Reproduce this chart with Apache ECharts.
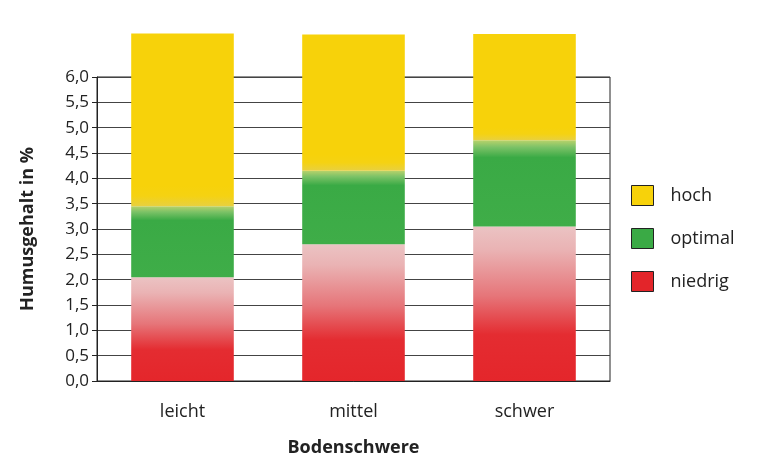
<!DOCTYPE html>
<html><head><meta charset="utf-8">
<script src="https://cdn.jsdelivr.net/npm/echarts@6/dist/echarts.min.js"></script>
<style>html,body{margin:0;background:#fff}#main{width:770px;height:473px}</style>
</head><body><div id="main"></div>
<script>
const categories = ['leicht', 'mittel', 'schwer'];
const niedrig = [2.05, 2.7, 3.05];
const optimal = [1.4, 1.45, 1.7];
const hoch = [3.41, 2.69, 2.1];
const yTicks = [0, 6, 0.5]; // min, max, step of the framed axis
const barTop = 6.9;

const font = 'Open Sans, DejaVu Sans, sans-serif';
const grad = (stops) => ({ type: 'linear', x: 0, y: 1, x2: 0, y2: 0,
  colorStops: stops.map(s => ({ offset: s[0], color: s[1] })) });

const myChart = echarts.init(document.getElementById('main'));
const plotBottom = 92, plotTop = 77;
const plotH = 473 - plotBottom - plotTop;
const barGridTop = 473 - plotBottom - plotH * barTop / yTicks[1];

myChart.setOption({
  animation: false,
  textStyle: { fontFamily: font },
  grid: [
    { left: 97, right: 160, top: plotTop, bottom: plotBottom, show: true, borderColor: '#222', borderWidth: 1, z: 0 },
    { left: 97, right: 160, top: barGridTop, bottom: plotBottom }
  ],
  legend: {
    orient: 'vertical', left: 626, top: 180, itemGap: 22,
    itemWidth: 22, itemHeight: 20, icon: 'rect',
    textStyle: { fontSize: 18, color: '#222', padding: [0, 0, 0, 12] },
    data: [
      { name: 'hoch', itemStyle: { color: '#f7d20a', borderColor: '#222', borderWidth: 1 } },
      { name: 'optimal', itemStyle: { color: '#3aaa45', borderColor: '#222', borderWidth: 1 } },
      { name: 'niedrig', itemStyle: { color: '#e3252a', borderColor: '#222', borderWidth: 1 } }
    ]
  },
  xAxis: [
    { type: 'category', gridIndex: 0, data: categories,
      axisTick: { show: false }, axisLine: { lineStyle: { color: '#222' } },
      axisLabel: { fontSize: 18, color: '#222', margin: 22 },
      name: 'Bodenschwere', nameLocation: 'middle', nameGap: 58,
      nameTextStyle: { fontSize: 18, fontWeight: 'bold', color: '#222' } },
    { type: 'category', gridIndex: 1, data: categories, show: false }
  ],
  yAxis: [
    { type: 'value', gridIndex: 0, min: yTicks[0], max: yTicks[1], interval: yTicks[2],
      axisLine: { show: true, lineStyle: { color: '#222' } },
      axisTick: { show: true, length: 5, lineStyle: { color: '#222' } },
      splitLine: { lineStyle: { color: '#444' } },
      axisLabel: { fontSize: 17, color: '#222', formatter: v => v.toFixed(1).replace('.', ',') },
      name: 'Humusgehalt in %', nameLocation: 'middle', nameGap: 60,
      nameTextStyle: { fontSize: 18, fontWeight: 'bold', color: '#222' } },
    { type: 'value', gridIndex: 1, min: 0, max: barTop, show: false }
  ],
  series: [
    { name: 'niedrig', type: 'bar', stack: 'a', xAxisIndex: 1, yAxisIndex: 1, barWidth: '60%', data: niedrig,
      itemStyle: { color: grad([[0, '#e4262b'], [0.3, '#e42c31'], [0.55, '#e67579'], [0.85, '#eab3b4'], [1, '#ebc3c3']]) } },
    { name: 'optimal', type: 'bar', stack: 'a', xAxisIndex: 1, yAxisIndex: 1, data: optimal,
      itemStyle: { color: grad([[0, '#3fad48'], [0.8, '#3aaa45'], [0.92, '#7cc267'], [1, '#b8d26a']]) } },
    { name: 'hoch', type: 'bar', stack: 'a', xAxisIndex: 1, yAxisIndex: 1, data: hoch,
      itemStyle: { color: grad([[0, '#e8d040'], [0.06, '#f5d212'], [0.12, '#f7d20a'], [1, '#f7d20a']]) } }
  ]
});
</script>
</body></html>
